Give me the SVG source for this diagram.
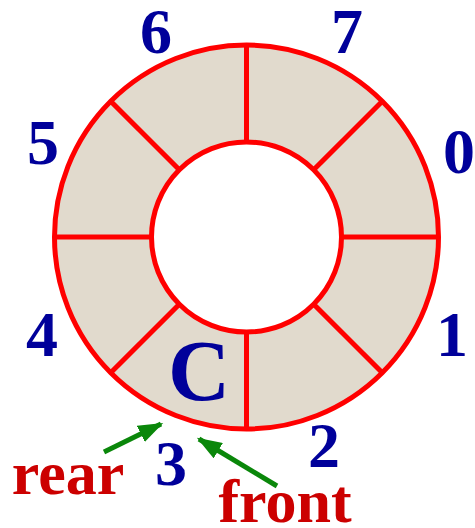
<svg xmlns="http://www.w3.org/2000/svg" width="475" height="528" viewBox="0 0 475 528">
<defs>
<style>
.ring{fill:#e1dacd;stroke:#ff0000;stroke-width:5;fill-rule:evenodd}
.spoke{stroke:#ff0000;stroke-width:5}
.idx{font-family:"Liberation Serif",serif;font-weight:bold;font-size:64px;fill:#00009a;text-anchor:middle}
.lbl{font-family:"Liberation Serif",serif;font-weight:bold;font-size:62px;fill:#cc0000;text-anchor:middle}
.arr{stroke:#0a870a;stroke-width:5;fill:none}
</style>
<marker id="ah" viewBox="0 0 10 10" refX="9" refY="5" markerWidth="5" markerHeight="3.6" orient="auto" markerUnits="strokeWidth" preserveAspectRatio="none">
<path d="M0,0 L10,5 L0,10 z" fill="#0a870a"/>
</marker>
</defs>
<g id="ring">
<path class="ring" d="M54.5,237 a192,192 0 1,0 384,0 a192,192 0 1,0 -384,0 Z M151.5,237 a95,95 0 1,0 190,0 a95,95 0 1,0 -190,0 Z"/>
<g class="spoke">
<line x1="341.5" y1="237" x2="438.5" y2="237"/>
<line x1="313.7" y1="304.2" x2="382.3" y2="372.8"/>
<line x1="246.5" y1="332" x2="246.5" y2="429"/>
<line x1="179.3" y1="304.2" x2="110.7" y2="372.8"/>
<line x1="151.5" y1="237" x2="54.5" y2="237"/>
<line x1="179.3" y1="169.8" x2="110.7" y2="101.2"/>
<line x1="246.5" y1="142" x2="246.5" y2="45"/>
<line x1="313.7" y1="169.8" x2="382.3" y2="101.2"/>
</g>
</g>
<g id="labels">
<text class="idx" x="156" y="53">6</text>
<text class="idx" x="347" y="53">7</text>
<text class="idx" x="43" y="164">5</text>
<text class="idx" x="459" y="173">0</text>
<text class="idx" x="42" y="356">4</text>
<text class="idx" x="452" y="356">1</text>
<text class="idx" x="324" y="467">2</text>
<text class="idx" x="171" y="485">3</text>
<text class="idx" x="199" y="400" style="font-size:86px">C</text>
</g>
<g id="rear"><text class="lbl" x="68" y="494">rear</text></g>
<g id="front"><text class="lbl" x="285" y="522">front</text></g>
<g id="connectors">
<line class="arr" x1="104" y1="452" x2="161" y2="424" marker-end="url(#ah)"/>
<line class="arr" x1="277" y1="486" x2="199" y2="439" marker-end="url(#ah)"/>
</g>
</svg>
